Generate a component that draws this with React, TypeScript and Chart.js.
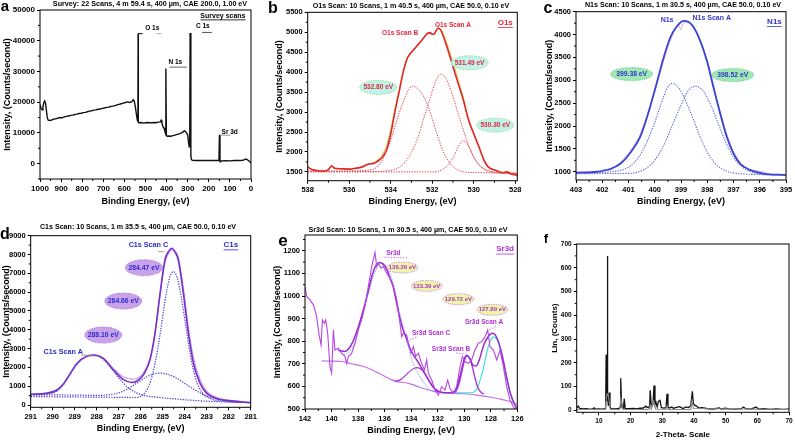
import React, { useEffect, useRef } from 'react';
import { Chart, registerables } from 'chart.js';

Chart.register(...registerables);

const FAM = "'Liberation Sans', Arial, Helvetica, sans-serif";

// ---------- Panel a : survey ----------
const SURVEY_X = [
  1000, 995, 990, 986, 982, 978, 974, 970, 966, 962,
  955, 945, 935, 925, 915, 905, 895, 885, 875, 865,
  855, 845, 835, 825, 815, 805, 795, 785, 775, 765,
  755, 745, 735, 725, 715, 705, 695, 685, 675, 665,
  655, 645, 635, 625, 615, 605, 595, 585, 575, 565,
  558, 553, 548, 543, 539, 536, 535, 534, 530, 520,
  510, 500, 490, 480, 470, 460, 450, 440, 430, 426,
  422, 418, 412, 408, 405, 403.5, 401, 398, 390, 380,
  370, 360, 350, 340, 330, 322, 316, 310, 305, 300,
  296, 293, 290.5, 288.5, 285, 282, 278, 260, 240, 220,
  200, 180, 160, 152, 149.5, 147, 144, 140, 120, 100,
  80, 60, 40, 30, 24, 20, 14, 8, 3, 0,
];
const SURVEY_Y = [
  19200, 18000, 17500, 18600, 19800, 20400, 19700, 17500, 15200, 14200,
  14000, 14200, 14500, 14600, 14800, 15000, 14900, 15200, 15400, 15500,
  15700, 15800, 16000, 16100, 16300, 16400, 16600, 16700, 16900, 17100,
  17200, 17400, 17500, 17700, 17800, 18000, 18100, 18300, 18400, 18600,
  18700, 18900, 19100, 19300, 19500, 19700, 19900, 20100, 19900, 20200,
  20800, 20300, 18500, 16000, 14200, 13800, 42300, 13500, 13300, 13400,
  13200, 13300, 13400, 13300, 13300, 13400, 13300, 13500, 13600, 14100,
  13200, 12200, 11500, 10500, 9800, 31000, 9200, 8900, 9000, 8900,
  9100, 9300, 9500, 9700, 10000, 10300, 10700, 10400, 9900, 9300,
  7000, 5500, 6500, 42500, 2500, 1300, 1100, 1000, 1050, 1000,
  1050, 1000, 1050, 1000, 9400, 700, 600, 900, 950, 900,
  1000, 1000, 1100, 1300, 1500, 1400, 1100, 800, 500, 200,
];
const A_XTICKS = [1000, 900, 800, 700, 600, 500, 400, 300, 200, 100, 0];
const A_YTICKS = [0, 10000, 20000, 30000, 40000, 50000];

// ---------- Panel b : O1s ----------
const O1S_X = [
  538, 537.8, 537.5, 537.2, 537.0, 536.85, 536.7, 536.4, 536.0, 535.7,
  535.4, 535.1, 534.8, 534.6, 534.4, 534.2, 534.0, 533.8, 533.6, 533.4,
  533.2, 533.0, 532.8, 532.5, 532.25, 532.1, 532.0, 531.9, 531.8, 531.7,
  531.6, 531.5, 531.3, 531.05, 530.8, 530.5, 530.25, 530.0, 529.75, 529.5,
  529.3, 528.95, 528.6, 528.4, 528.2, 528.0, 527.9,
];
const O1S_ENV = [
  1625, 1560, 1530, 1520, 1560, 1650, 1590, 1580, 1570, 1590,
  1620, 1690, 1720, 1780, 1870, 2050, 2450, 3000, 3500, 4000,
  4350, 4500, 4620, 4800, 4960, 4990, 4950, 4960, 5050, 5100,
  5060, 4950, 4650, 4230, 3800, 3300, 2800, 2460, 2130, 1790,
  1625, 1540, 1480, 1500, 1450, 1430, 1410,
];
const O1S_RAW = [
  1625, 1560, 1530, 1520, 1560, 1650, 1590, 1580, 1570, 1590,
  1620, 1690, 1730, 1810, 1930, 2160, 2560, 3050, 3520, 4000,
  4350, 4500, 4620, 4800, 4960, 4990, 4950, 4960, 5050, 5100,
  5080, 5000, 4730, 4330, 3900, 3350, 2820, 2460, 2130, 1790,
  1625, 1540, 1480, 1500, 1450, 1430, 1410,
];
const O1S_B_X = [538, 536, 535, 534.6, 534.3, 534.0, 533.7, 533.4, 533.15, 532.95, 532.7, 532.4, 532.1, 531.8, 531.5, 531.2, 530.8, 530.3, 529.5, 528.5, 527.9];
const O1S_B_Y = [1520, 1525, 1550, 1650, 1900, 2300, 2800, 3250, 3550, 3650, 3580, 3380, 3000, 2500, 2050, 1750, 1560, 1490, 1480, 1470, 1465];
const O1S_A_X = [538, 535, 534, 533.5, 533.1, 532.7, 532.4, 532.1, 531.85, 531.6, 531.35, 531.1, 530.8, 530.5, 530.2, 529.9, 529.5, 529.0, 528.0, 527.9];
const O1S_A_Y = [1510, 1510, 1540, 1650, 1900, 2350, 2850, 3350, 3750, 3950, 3850, 3550, 3050, 2550, 2100, 1780, 1580, 1500, 1470, 1465];
const O1S_C_X = [538, 532, 531.5, 531.2, 530.95, 530.75, 530.5, 530.25, 530.0, 529.75, 529.4, 529.0, 527.9];
const O1S_C_Y = [1500, 1500, 1560, 1700, 1900, 2130, 2280, 2150, 1880, 1680, 1540, 1480, 1460];
const B_XTICKS = [538, 536, 534, 532, 530, 528];
const B_YTICKS = [1500, 2000, 2500, 3000, 3500, 4000, 4500, 5000, 5500];

// ---------- Panel c : N1s ----------
const N1S_ENV_X = [403, 402.2, 401.7, 401.3, 400.95, 400.55, 400.25, 399.93, 399.67, 399.42, 399.17, 398.91, 398.72, 398.53, 398.28, 398.02, 397.77, 397.51, 397.26, 397.0, 396.75, 396.37, 395.86, 395];
const N1S_ENV_Y = [980, 1000, 1060, 1180, 1400, 1770, 2280, 2930, 3480, 3920, 4170, 4300, 4280, 4170, 3880, 3440, 2860, 2280, 1770, 1400, 1180, 1040, 960, 930];
const N1S_RAW_X = [
  403, 402.8, 402.6, 402.4, 402.1, 401.9, 401.7, 401.4, 401.0, 400.6,
  400.2, 399.9, 399.6, 399.35, 399.2, 399.1, 399.0, 398.9, 398.7, 398.5,
  398.2, 397.9, 397.6, 397.3, 397.0, 396.7, 396.4, 396.1, 396.0, 395.9,
  395.6, 395.3, 395,
];
const N1S_RAW_Y = [
  1000, 960, 990, 970, 1010, 1060, 1020, 1150, 1400, 1750,
  2350, 2950, 3550, 3950, 4150, 4200, 4100, 4280, 4250, 4150,
  3800, 3250, 2500, 1900, 1420, 1150, 1030, 1020, 1000, 1010,
  940, 930, 940,
];
const N1S_P1_X = [403, 402, 401.5, 401, 400.6, 400.3, 400.0, 399.75, 399.55, 399.36, 399.15, 398.9, 398.6, 398.3, 398.0, 397.7, 397.3, 396.8, 396, 395];
const N1S_P1_Y = [975, 985, 1010, 1100, 1330, 1650, 2080, 2500, 2800, 2930, 2880, 2650, 2250, 1800, 1430, 1180, 1020, 960, 940, 930];
const N1S_P2_X = [403, 401, 400.6, 400.2, 399.9, 399.6, 399.3, 399.0, 398.75, 398.45, 398.2, 397.9, 397.6, 397.3, 397.0, 396.7, 396.3, 395.8, 395];
const N1S_P2_Y = [960, 965, 1000, 1130, 1330, 1650, 2060, 2450, 2750, 2870, 2800, 2500, 2080, 1650, 1320, 1120, 990, 940, 925];
const C_XTICKS = [403, 402, 401, 400, 399, 398, 397, 396, 395];
const C_YTICKS = [1000, 1500, 2000, 2500, 3000, 3500, 4000, 4500];

// ---------- Panel d : C1s ----------
const C1S_X = [291, 290.3, 289.8, 289.5, 289.2, 288.9, 288.45, 288.08, 287.7, 287.24, 286.8, 286.4, 286.1, 285.88, 285.58, 285.35, 285.12, 284.9, 284.74, 284.59, 284.45, 284.29, 284.06, 283.83, 283.6, 283.3, 283.0, 282.55, 281.8, 281];
const C1S_ENV = [570, 620, 800, 1150, 1680, 2210, 2600, 2660, 2480, 1860, 1360, 1200, 1330, 1600, 2390, 3810, 5930, 7710, 8150, 8330, 8150, 7710, 5930, 3810, 2210, 1150, 620, 350, 210, 120];
const C1S_RAW = [560, 630, 820, 1120, 1650, 2180, 2580, 2640, 2500, 1950, 1500, 1380, 1450, 1700, 2450, 3800, 5800, 7550, 8050, 8250, 8200, 7850, 6200, 4100, 2500, 1350, 720, 400, 230, 140];
const C1S_A_X = [291, 290.3, 289.8, 289.5, 289.2, 288.9, 288.5, 288.08, 287.7, 287.3, 287.0, 286.6, 286.2, 285.8, 285.3, 284.5, 283.5, 282.5, 281];
const C1S_A_Y = [540, 580, 750, 1100, 1650, 2150, 2550, 2620, 2420, 1900, 1450, 950, 650, 500, 420, 330, 240, 180, 130];
const C1S_B_X = [291, 289, 288, 287.5, 287.0, 286.6, 286.2, 285.8, 285.5, 285.15, 284.8, 284.4, 284.0, 283.6, 283.2, 282.8, 282.3, 281.6, 281];
const C1S_B_Y = [540, 530, 510, 540, 650, 850, 1150, 1450, 1620, 1700, 1640, 1450, 1150, 850, 580, 400, 260, 170, 130];
const C1S_C_X = [291, 288, 287, 286.3, 285.9, 285.6, 285.35, 285.1, 284.9, 284.7, 284.52, 284.35, 284.15, 283.95, 283.75, 283.5, 283.2, 282.8, 282.2, 281];
const C1S_C_Y = [450, 420, 410, 400, 550, 1100, 2200, 3900, 5500, 6700, 7090, 6800, 5700, 4200, 2700, 1400, 650, 330, 200, 120];
const D_XTICKS = [291, 290, 289, 288, 287, 286, 285, 284, 283, 282, 281];
const D_YTICKS = [0, 1000, 2000, 3000, 4000, 5000, 6000, 7000, 8000, 9000];

// ---------- Panel e : Sr3d ----------
const SR_RAW_X = [
  142.0, 141.87, 141.62, 141.37, 141.25, 141.12, 140.94, 140.79, 140.69, 140.54,
  140.44, 140.29, 140.12, 139.99, 139.86, 139.74, 139.49, 139.24, 138.98, 138.86,
  138.73, 138.48, 138.23, 137.98, 137.73, 137.48, 137.23, 136.97, 136.72, 136.6,
  136.47, 136.27, 136.1, 135.84, 135.59, 135.34, 135.09, 134.84, 134.71, 134.59,
  134.34, 134.21, 134.01, 133.83, 133.66, 133.46, 133.21, 133.0, 132.83, 132.7,
  132.45, 132.2, 131.95, 131.7, 131.45, 131.25, 131.07, 130.82, 130.57, 130.32,
  130.14, 129.94, 129.69, 129.44, 129.19, 128.93, 128.68, 128.43, 128.23, 128.06,
  127.8, 127.55, 127.3, 127.05, 126.8, 126.55, 126.3, 126.17,
];
const SR_RAW_Y = [
  1042, 998, 983, 961, 939, 909, 828, 783, 894, 879,
  894, 835, 687, 658, 850, 761, 769, 747, 732, 702,
  732, 747, 791, 850, 894, 953, 1042, 1131, 1193, 1131,
  1145, 1123, 1131, 1101, 1079, 1042, 983, 879, 820, 835,
  828, 791, 747, 776, 732, 747, 702, 673, 717, 658,
  628, 584, 562, 599, 584, 628, 591, 569, 599, 687,
  732, 710, 702, 717, 761, 791, 798, 820, 850, 776,
  761, 717, 761, 687, 599, 540, 510, 500,
];
const SR_ENV_X = [139.5, 139.0, 138.5, 138.0, 137.5, 137.2, 136.9, 136.6, 136.35, 136.1, 135.85, 135.6, 135.35, 135.1, 134.84, 134.6, 134.34, 134.1, 133.83, 133.5, 133.2, 132.9, 132.6, 132.3, 132.0, 131.5, 131.0, 130.6, 130.3, 130.0, 129.8, 129.6, 129.35, 129.1, 128.85, 128.55, 128.2, 127.85, 127.5, 127.15, 126.8, 126.5, 126.2, 126.0];
const SR_ENV_Y = [760, 755, 785, 860, 960, 1030, 1100, 1140, 1148, 1140, 1120, 1080, 1040, 970, 900, 850, 810, 770, 740, 710, 680, 650, 620, 595, 580, 572, 572, 590, 650, 720, 738, 725, 695, 690, 720, 780, 820, 835, 810, 740, 640, 565, 520, 500];
const SR_FIT_X = [139.5, 139.0, 138.7, 138.2, 137.98, 137.6, 137.2, 136.9, 136.7, 136.35, 136.1, 135.85, 135.6, 135.35, 135.1, 134.84, 134.6, 134.34, 134.1, 133.83, 133.5, 133.2, 132.9, 132.58, 132.2, 131.95];
const SR_FIT_Y = [765, 740, 752, 800, 855, 940, 1015, 1080, 1110, 1145, 1145, 1130, 1100, 1055, 990, 920, 860, 805, 750, 700, 660, 630, 605, 585, 575, 570];
const SR_BG_X = [140.74, 140.0, 139.2, 138.5, 137.7, 137.0, 136.5, 136.0, 135.5, 135.0, 134.5, 134.0, 133.5, 133.0, 132.5, 132.0, 131.5, 131.0, 130.4, 129.5, 128.9, 128.0, 127.4, 126.7, 126.0];
const SR_BG_Y = [713, 712, 710, 700, 690, 675, 660, 645, 630, 620, 617, 610, 600, 590, 582, 575, 572, 570, 568, 565, 560, 552, 545, 535, 520];
const SR_C_X = [135.2, 134.8, 134.4, 134.0, 133.6, 133.3, 133.0, 132.7, 132.4, 132.0, 131.6];
const SR_C_Y = [622, 630, 650, 672, 683, 678, 660, 630, 600, 578, 572];
const SR_B_X = [130.9, 130.6, 130.4, 130.2, 130.0, 129.8, 129.6, 129.4, 129.2, 129.0, 128.8, 128.5];
const SR_B_Y = [570, 580, 610, 660, 710, 735, 725, 690, 640, 600, 578, 565];
const SR_A_X = [131.5, 129.5, 129.1, 128.9, 128.6, 128.3, 128.05, 127.8, 127.55, 127.3, 127.05, 126.8, 126.5, 126.2, 126.0];
const SR_A_Y = [572, 572, 585, 610, 670, 750, 800, 818, 810, 770, 705, 635, 565, 520, 500];
const E_XTICKS = [142, 140, 138, 136, 134, 132, 130, 128, 126];
const E_YTICKS = [500, 600, 700, 800, 900, 1000, 1100, 1200];

// ---------- Panel f : XRD ----------
const XRD_X = [
  3, 3.5, 4, 5, 6, 7, 8, 8.5, 9, 10,
  11, 12, 12.15, 12.3, 12.45, 12.6, 12.7, 12.8, 13.0, 13.3,
  13.5, 13.7, 14, 15, 16, 16.7, 16.9, 17.1, 17.4, 17.8,
  18.0, 18.3, 19.5, 21, 22, 23, 24, 24.8, 25.2, 25.6,
  26.0, 26.2, 26.5, 26.9, 27.1, 27.4, 27.7, 28.0, 28.4, 28.8,
  29.3, 29.7, 30.5, 31.2, 31.5, 31.8, 32.3, 33, 33.5, 34.5,
  35.5, 36.5, 37.5, 38.3, 39, 39.5, 39.8, 40.2, 40.8, 41.5,
  42.5, 44, 46, 48, 48.5, 50, 51, 53, 55, 55.6,
  56.5, 58, 59.6, 60.5, 62, 64, 66, 68, 70,
];
const XRD_Y = [
  10, 18, 8, 6, 7, 5, 6, 11, 5, 6,
  5, 7, 30, 235, 40, 70, 650, 60, 20, 75,
  15, 10, 6, 6, 7, 12, 135, 40, 15, 10,
  50, 8, 7, 8, 6, 9, 10, 18, 12, 15,
  10, 85, 25, 20, 30, 105, 25, 35, 15, 38,
  42, 12, 10, 12, 70, 15, 10, 14, 9, 13,
  16, 8, 15, 12, 20, 80, 30, 22, 18, 10,
  12, 8, 6, 10, 6, 9, 6, 5, 7, 14,
  6, 5, 14, 5, 7, 4, 6, 4, 5,
];
const XRD_G_X = [3, 12, 12.4, 12.6, 12.9, 13.2, 13.6, 16.6, 16.9, 17.2, 17.6, 25.8, 26.2, 26.6, 27.2, 27.5, 27.9, 31.2, 31.5, 31.9, 39.0, 39.4, 39.8, 70];
const XRD_G_Y = [4, 4, 55, 70, 65, 45, 4, 4, 50, 25, 4, 4, 22, 6, 38, 30, 6, 4, 18, 4, 4, 40, 8, 4];
const F_XTICKS = [10, 20, 30, 40, 50, 60, 70];
const F_YTICKS = [0, 100, 200, 300, 400, 500, 600, 700];

// ---------- helpers ----------
const pts = (xs: number[], ys: number[]) => xs.map((x, i) => ({ x, y: ys[i] }));

function ds(xs: number[], ys: number[], color: string, width: number, extra: any = {}) {
  return {
    data: pts(xs, ys),
    borderColor: color,
    backgroundColor: color,
    borderWidth: width,
    pointRadius: 0,
    fill: false,
    tension: 0,
    ...extra,
  };
}
const SMOOTH = { cubicInterpolationMode: 'monotone' };
const DOT = { borderDash: [1.3, 1.3], cubicInterpolationMode: 'monotone' };

const decoPlugin = {
  id: 'deco',
  afterDraw(chart: any, _a: any, o: any) {
    const ctx = chart.ctx as CanvasRenderingContext2D;
    const ca = chart.chartArea;
    const sx = chart.scales.x;
    const sy = chart.scales.y;
    ctx.save();
    ctx.strokeStyle = '#000';
    ctx.lineWidth = 1;
    ctx.setLineDash([]);
    ctx.strokeRect(ca.left, ca.top, ca.right - ca.left, ca.bottom - ca.top);
    const minor = (scale: any, step: number, majors: number[], horiz: boolean) => {
      const lo = Math.min(scale.min, scale.max);
      const hi = Math.max(scale.min, scale.max);
      const n0 = Math.ceil(lo / step - 1e-6);
      const n1 = Math.floor(hi / step + 1e-6);
      for (let n = n0; n <= n1; n++) {
        const v = n * step;
        if (majors.some((m) => Math.abs(m - v) < step * 1e-3)) continue;
        const p = scale.getPixelForValue(v);
        ctx.beginPath();
        if (horiz) {
          ctx.moveTo(p, ca.bottom);
          ctx.lineTo(p, ca.bottom + 2);
        } else {
          ctx.moveTo(ca.left, p);
          ctx.lineTo(ca.left - 2, p);
        }
        ctx.stroke();
      }
    };
    minor(sx, o.xMinor, o.xTicks, true);
    minor(sy, o.yMinor, o.yTicks, false);

    const text = (s: string, x: number, y: number, size: number, color: string, ul = false, align: CanvasTextAlign = 'center') => {
      ctx.font = `bold ${size}px ${FAM}`;
      ctx.fillStyle = color;
      ctx.textAlign = align;
      ctx.textBaseline = 'middle';
      ctx.fillText(s, x, y);
      if (ul) {
        const w = ctx.measureText(s).width;
        const x0 = align === 'center' ? x - w / 2 : x;
        ctx.strokeStyle = color;
        ctx.lineWidth = 0.8;
        ctx.setLineDash([]);
        ctx.beginPath();
        ctx.moveTo(x0, y + size * 0.6);
        ctx.lineTo(x0 + w, y + size * 0.6);
        ctx.stroke();
      }
    };

    for (const it of o.items || []) {
      if (it.t === 'text') {
        text(it.s, sx.getPixelForValue(it.x), sy.getPixelForValue(it.y), it.size, it.c, !!it.ul);
      } else if (it.t === 'ellipse') {
        const cx = sx.getPixelForValue(it.x);
        const cy = sy.getPixelForValue(it.y);
        ctx.beginPath();
        ctx.ellipse(cx, cy, it.w / 2, it.h / 2, 0, 0, Math.PI * 2);
        ctx.fillStyle = it.fill;
        ctx.fill();
        ctx.setLineDash([1.2, 1.2]);
        ctx.strokeStyle = it.stroke;
        ctx.lineWidth = 1;
        ctx.stroke();
        ctx.setLineDash([]);
        text(it.s, cx, cy, it.size, it.c);
      } else if (it.t === 'seg') {
        ctx.strokeStyle = it.c;
        ctx.lineWidth = it.w || 1;
        ctx.setLineDash(it.dash || []);
        ctx.beginPath();
        ctx.moveTo(sx.getPixelForValue(it.x1), sy.getPixelForValue(it.y1));
        ctx.lineTo(sx.getPixelForValue(it.x2), sy.getPixelForValue(it.y2));
        ctx.stroke();
        ctx.setLineDash([]);
      }
    }
    if (o.head) text(o.head.s, o.head.x, o.head.y, o.head.size, '#000');
    if (o.letter) {
      ctx.font = `bold ${o.letter.size}px ${FAM}`;
      ctx.fillStyle = '#000';
      ctx.textAlign = 'center';
      ctx.textBaseline = 'alphabetic';
      ctx.fillText(o.letter.s, o.letter.x, o.letter.y);
    }
    ctx.restore();
  },
};

function axis(p: any, isX: boolean) {
  const a = isX ? p.x : p.y;
  return {
    type: 'linear',
    min: a.min,
    max: a.max,
    reverse: !!a.reverse,
    afterBuildTicks: (s: any) => {
      s.ticks = a.ticks.map((v: number) => ({ value: v }));
    },
    afterFit: (s: any) => {
      if (isX) s.height = p.xHeight;
      else s.width = p.yWidth;
    },
    ticks: {
      callback: (v: any) => String(v),
      font: { family: FAM, weight: 'bold', size: p.tickSize },
      color: '#000',
      padding: 2,
      maxRotation: 0,
      minRotation: 0,
      autoSkip: false,
    },
    grid: { display: true, drawOnChartArea: false, drawTicks: true, tickLength: 3, color: '#000', lineWidth: 1 },
    border: { display: false },
    title: {
      display: true,
      text: a.title,
      font: { family: FAM, weight: 'bold', size: p.titleSize },
      color: '#000',
      padding: isX ? { top: 0, bottom: a.tpad } : { top: a.tpad, bottom: 0 },
    },
  };
}

const XPS_X = 'Binding Energy, (eV)';
const XPS_Y = 'Intensity, (Counts/second)';

const PANELS: any[] = [
  {
    key: 'a', left: 0, top: 0, w: 265, h: 215, pad: { top: 10, right: 14, left: 0, bottom: 0 },
    yWidth: 40, xHeight: 36, tickSize: 8, titleSize: 9,
    x: { min: 0, max: 1000, reverse: true, ticks: A_XTICKS, minor: 50, title: XPS_X, tpad: 7.6 },
    y: { min: -5000, max: 50000, ticks: A_YTICKS, minor: 5000, title: XPS_Y, tpad: 2.6 },
    datasets: [ds(SURVEY_X, SURVEY_Y, '#111', 1.4)],
    head: { s: 'Survey: 22 Scans, 4 m 59.4 s, 400 µm, CAE 200.0, 1.00 eV', x: 150, y: 4.5, size: 7.2 },
    letter: { s: 'a', x: 5, y: 11, size: 15 },
    items: [
      { t: 'text', x: 468, y: 44227, s: 'O 1s', size: 6.5, c: '#000' },
      { t: 'text', x: 359, y: 33100, s: 'N 1s', size: 6.5, c: '#000' },
      { t: 'text', x: 228.6, y: 44660, s: 'C 1s', size: 6.5, c: '#000' },
      { t: 'text', x: 101, y: 10350, s: 'Sr 3d', size: 6.5, c: '#000' },
      { t: 'text', x: 133, y: 48150, s: 'Survey scans', size: 7, c: '#000', ul: true },
      { t: 'seg', x1: 535, y1: 42300, x2: 514, y2: 42300, c: '#000' },
      { t: 'seg', x1: 448, y1: 42300, x2: 425, y2: 42300, c: '#aaa' },
      { t: 'seg', x1: 386, y1: 31390, x2: 304, y2: 31390, c: '#999', w: 1.5 },
      { t: 'seg', x1: 232, y1: 42700, x2: 185, y2: 42700, c: '#555' },
      { t: 'seg', x1: 146, y1: 9260, x2: 98, y2: 9260, c: '#999' },
    ],
  },
  {
    key: 'b', left: 265, top: 0, w: 265, h: 215, pad: { top: 12.3, right: 12.7, left: 0, bottom: 0 },
    yWidth: 42.7, xHeight: 34.3, tickSize: 7.5, titleSize: 9,
    x: { min: 527.9, max: 538, reverse: true, ticks: B_XTICKS, minor: 1, title: XPS_X, tpad: 7.9 },
    y: { min: 1280, max: 5500, ticks: B_YTICKS, minor: 250, title: XPS_Y, tpad: 9.6 },
    datasets: [
      ds(O1S_X, O1S_ENV, '#e8242a', 1.6, SMOOTH),
      ds(O1S_X, O1S_RAW, '#b5e06a', 1.3, SMOOTH),
      ds(O1S_B_X, O1S_B_Y, '#e0404e', 1, DOT),
      ds(O1S_A_X, O1S_A_Y, '#e0404e', 1, DOT),
      ds(O1S_C_X, O1S_C_Y, '#e0404e', 1, DOT),
    ],
    head: { s: 'O1s Scan: 10 Scans, 1 m 40.5 s, 400 µm, CAE 50.0, 0.10 eV', x: 146, y: 5.7, size: 7.1 },
    letter: { s: 'b', x: 8, y: 13, size: 16 },
    items: [
      { t: 'text', x: 533.55, y: 4973, s: 'O1s Scan B', size: 6.5, c: '#e8243a' },
      { t: 'text', x: 531.0, y: 5165, s: 'O1s Scan A', size: 6.5, c: '#e8243a' },
      { t: 'text', x: 528.48, y: 5240, s: 'O1s', size: 8, c: '#e8243a', ul: true },
      { t: 'ellipse', x: 534.6, y: 3617, w: 37, h: 14, s: '532.80 eV', size: 6.5, c: '#e8243a', fill: '#bff2ea', stroke: '#8fdc6a' },
      { t: 'ellipse', x: 530.2, y: 4236, w: 37, h: 14, s: '531.49 eV', size: 6.5, c: '#e8243a', fill: '#bff2ea', stroke: '#8fdc6a' },
      { t: 'ellipse', x: 528.96, y: 2672, w: 37, h: 14, s: '530.30 eV', size: 6.5, c: '#e8243a', fill: '#bff2ea', stroke: '#8fdc6a' },
    ],
  },
  {
    key: 'c', left: 530, top: 0, w: 265, h: 215, pad: { top: 11.7, right: 9, left: 0, bottom: 0 },
    yWidth: 46, xHeight: 35, tickSize: 7.5, titleSize: 9,
    x: { min: 395, max: 403, reverse: true, ticks: C_XTICKS, minor: 0.5, title: XPS_X, tpad: 7.6 },
    y: { min: 820, max: 4500, ticks: C_YTICKS, minor: 250, title: XPS_Y, tpad: 13.9 },
    datasets: [
      ds(N1S_ENV_X, N1S_ENV_Y, '#3a44d2', 1.8, SMOOTH),
      ds(N1S_RAW_X, N1S_RAW_Y, '#d9a6e6', 0.9),
      ds(N1S_P1_X, N1S_P1_Y, '#5a64d8', 1.1, DOT),
      ds(N1S_P2_X, N1S_P2_Y, '#5a64d8', 1.1, DOT),
    ],
    head: { s: 'N1s Scan: 10 Scans, 1 m 30.5 s, 400 µm, CAE 50.0, 0.10 eV', x: 153, y: 5, size: 7.1 },
    letter: { s: 'c', x: 18, y: 12.5, size: 16 },
    items: [
      { t: 'text', x: 399.53, y: 4318, s: 'N1s', size: 7, c: '#3535c8' },
      { t: 'text', x: 397.83, y: 4354, s: 'N1s Scan A', size: 7, c: '#3535c8' },
      { t: 'text', x: 395.44, y: 4281, s: 'N1s', size: 8, c: '#3535c8', ul: true },
      { t: 'ellipse', x: 400.88, y: 3136, w: 42, h: 13, s: '399.38 eV', size: 6.8, c: '#3535c8', fill: '#9de8b4', stroke: '#6cc483' },
      { t: 'ellipse', x: 397.03, y: 3114, w: 42, h: 13, s: '398.52 eV', size: 6.8, c: '#3535c8', fill: '#9de8b4', stroke: '#6cc483' },
    ],
  },
  {
    key: 'd', left: 0, top: 220, w: 265, h: 221, pad: { top: 15.7, right: 14.3, left: 0, bottom: 0 },
    yWidth: 30.7, xHeight: 33.7, tickSize: 7.5, titleSize: 9,
    x: { min: 281, max: 291, reverse: true, ticks: D_XTICKS, minor: 0.5, title: XPS_X, tpad: 7.3 },
    y: { min: -120, max: 9000, ticks: D_YTICKS, minor: 500, title: XPS_Y, tpad: 1.3 },
    datasets: [
      ds(C1S_X, C1S_ENV, '#7a30c8', 1.6, SMOOTH),
      ds(C1S_X, C1S_RAW, '#c79be8', 1.2, SMOOTH),
      ds(C1S_A_X, C1S_A_Y, '#4a3ad0', 1.2, DOT),
      ds(C1S_B_X, C1S_B_Y, '#4a3ad0', 1.2, DOT),
      ds(C1S_C_X, C1S_C_Y, '#4a3ad0', 1.2, DOT),
    ],
    head: { s: 'C1s Scan: 10 Scans, 1 m 35.5 s, 400 µm, CAE 50.0, 0.10 eV', x: 138, y: 7.3, size: 7.1 },
    letter: { s: 'd', x: 5, y: 19, size: 16 },
    items: [
      { t: 'text', x: 285.65, y: 8504, s: 'C1s Scan C', size: 7.2, c: '#2a2ad0' },
      { t: 'text', x: 289.52, y: 2834, s: 'C1s Scan A', size: 7.2, c: '#2a2ad0' },
      { t: 'text', x: 281.9, y: 8504, s: 'C1s', size: 8, c: '#2a2ad0', ul: true },
      { t: 'seg', x1: 285.2, y1: 8150, x2: 284.95, y2: 8150, c: '#999' },
      { t: 'seg', x1: 288.7, y1: 2650, x2: 288.2, y2: 2650, c: '#999' },
      { t: 'ellipse', x: 285.85, y: 7300, w: 37, h: 16, s: '284.47 eV', size: 6.8, c: '#2a2ad0', fill: '#c9a2ea', stroke: '#9a6ad0' },
      { t: 'ellipse', x: 286.79, y: 5527, w: 37, h: 16, s: '284.66 eV', size: 6.8, c: '#2a2ad0', fill: '#c9a2ea', stroke: '#9a6ad0' },
      { t: 'ellipse', x: 287.7, y: 3720, w: 37, h: 16, s: '288.10 eV', size: 6.8, c: '#2a2ad0', fill: '#c9a2ea', stroke: '#9a6ad0' },
    ],
  },
  {
    key: 'e', left: 265, top: 220, w: 265, h: 221, pad: { top: 15, right: 12.7, left: 0, bottom: 0 },
    yWidth: 40, xHeight: 32, tickSize: 7.5, titleSize: 9,
    x: { min: 126, max: 142, reverse: true, ticks: E_XTICKS, minor: 1, title: XPS_X, tpad: 4.6 },
    y: { min: 500, max: 1270, ticks: E_YTICKS, minor: 50, title: XPS_Y, tpad: 7.3 },
    datasets: [
      ds(SR_RAW_X, SR_RAW_Y, '#b445e2', 1.1),
      ds(SR_ENV_X, SR_ENV_Y, '#9a2ad0', 1.5, SMOOTH),
      ds(SR_FIT_X, SR_FIT_Y, '#7fa6d6', 1.1, DOT),
      ds(SR_C_X, SR_C_Y, '#a535d8', 1.2, SMOOTH),
      ds(SR_B_X, SR_B_Y, '#a535d8', 1.4, SMOOTH),
      ds(SR_A_X, SR_A_Y, '#45e0d8', 1.2, SMOOTH),
      ds(SR_BG_X, SR_BG_Y, '#c46ee6', 1.1, SMOOTH),
    ],
    head: { s: 'Sr3d Scan: 10 Scans, 1 m 30.5 s, 400 µm, CAE 50.0, 0.10 eV', x: 143, y: 10, size: 7.1 },
    letter: { s: 'e', x: 18, y: 26, size: 17 },
    items: [
      { t: 'text', x: 135.34, y: 1190, s: 'Sr3d', size: 6.5, c: '#b030d8' },
      { t: 'text', x: 132.5, y: 835, s: 'Sr3d Scan C', size: 6.5, c: '#b030d8' },
      { t: 'text', x: 131.0, y: 764, s: 'Sr3d Scan B', size: 6.5, c: '#b030d8' },
      { t: 'text', x: 128.5, y: 882, s: 'Sr3d Scan A', size: 6.5, c: '#b030d8' },
      { t: 'text', x: 126.92, y: 1207, s: 'Sr3d', size: 8, c: '#b030d8', ul: true },
      { t: 'seg', x1: 136.0, y1: 1172, x2: 134.2, y2: 1168, c: '#c070e0', dash: [1.5, 1.5] },
      { t: 'seg', x1: 133.6, y1: 818, x2: 134.3, y2: 800, c: '#c070e0', dash: [1.5, 1.5] },
      { t: 'seg', x1: 130.6, y1: 748, x2: 129.9, y2: 742, c: '#c070e0', dash: [1.5, 1.5] },
      { t: 'seg', x1: 127.6, y1: 866, x2: 128.1, y2: 850, c: '#c070e0', dash: [1.5, 1.5] },
      { t: 'ellipse', x: 134.66, y: 1126, w: 31, h: 11, s: '136.29 eV', size: 6, c: '#b030d8', fill: '#eef6a6', stroke: '#c478e6' },
      { t: 'ellipse', x: 132.83, y: 1045, w: 31, h: 11, s: '133.39 eV', size: 6, c: '#b030d8', fill: '#eef6a6', stroke: '#c478e6' },
      { t: 'ellipse', x: 130.44, y: 986, w: 31, h: 11, s: '129.72 eV', size: 6, c: '#b030d8', fill: '#eef6a6', stroke: '#c478e6' },
      { t: 'ellipse', x: 127.88, y: 939, w: 31, h: 11, s: '127.89 eV', size: 6, c: '#b030d8', fill: '#eef6a6', stroke: '#c478e6' },
    ],
  },
  {
    key: 'f', left: 530, top: 220, w: 265, h: 221, pad: { top: 24, right: 6, left: 0, bottom: 0 },
    yWidth: 46.7, xHeight: 28.7, tickSize: 6.5, titleSize: 8,
    x: { min: 3, max: 70, reverse: false, ticks: F_XTICKS, minor: 5, title: '2-Theta- Scale', tpad: 1.2 },
    y: { min: -8, max: 700, ticks: F_YTICKS, minor: 50, title: 'Lin, (Counts)', tpad: 20.2 },
    datasets: [
      ds(XRD_G_X, XRD_G_Y, '#8a8a8a', 1.1),
      ds(XRD_X, XRD_Y, '#111', 1.3),
    ],
    letter: { s: 'f', x: 16, y: 23, size: 13 },
    items: [],
  },
];

function buildConfig(p: any) {
  return {
    type: 'line',
    data: { datasets: p.datasets },
    options: {
      animation: false,
      responsive: false,
      maintainAspectRatio: false,
      devicePixelRatio: 1,
      layout: { padding: p.pad },
      plugins: {
        legend: { display: false },
        tooltip: { enabled: false },
        deco: {
          xMinor: p.x.minor, yMinor: p.y.minor, xTicks: p.x.ticks, yTicks: p.y.ticks,
          items: p.items, head: p.head, letter: p.letter,
        },
      },
      scales: { x: axis(p, true), y: axis(p, false) },
    },
    plugins: [decoPlugin],
  };
}

function Panel({ p }: { p: any }) {
  const ref = useRef<HTMLCanvasElement>(null);
  useEffect(() => {
    const chart = new Chart(ref.current as HTMLCanvasElement, buildConfig(p) as any);
    return () => chart.destroy();
  }, [p]);
  return (
    <canvas
      ref={ref}
      width={p.w}
      height={p.h}
      style={{ position: 'absolute', left: p.left, top: p.top, width: p.w, height: p.h, display: 'block' }}
    />
  );
}

export default function App() {
  return (
    <div style={{ position: 'absolute', left: 0, top: 0, width: 795, height: 441, background: '#fff', overflow: 'hidden' }}>
      {PANELS.map((p) => (
        <Panel key={p.key} p={p} />
      ))}
    </div>
  );
}
